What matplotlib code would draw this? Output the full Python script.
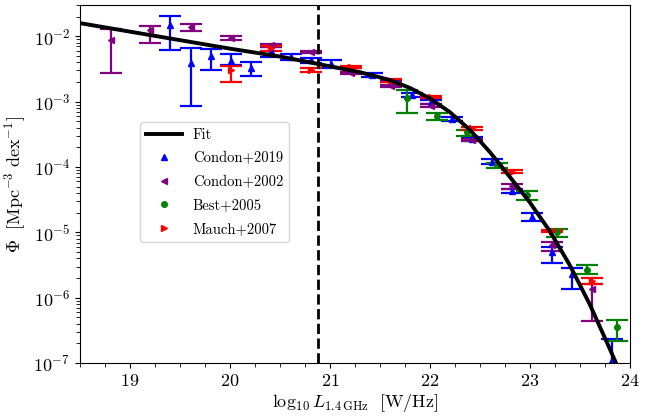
import numpy as np
import matplotlib
matplotlib.use('Agg')
import matplotlib.pyplot as plt
from matplotlib.lines import Line2D
from matplotlib.ticker import MultipleLocator

# log10 luminosity bins, log10 phi, and lower/upper errors in dex
condon19_x = [19.40, 19.61, 19.81, 20.01, 20.21, 20.41, 20.61, 20.81, 21.01, 21.21, 21.42,
              21.61, 21.82, 22.01, 22.22, 22.42, 22.62, 22.82, 23.02, 23.22, 23.42, 23.82]
condon19_y = [-1.83, -2.41, -2.30, -2.38, -2.49, -2.23, -2.32, -2.37, -2.43, -2.52, -2.60,
              -2.72, -2.90, -3.01, -3.27, -3.57, -3.92, -4.36, -4.77, -5.30, -5.64, -6.95]
condon19_lo = [0.38, 0.66, 0.22, 0.06, 0.12, 0.09, 0.05, 0.04, 0.05, 0.03, 0.03,
               0.03, 0.03, 0.03, 0.03, 0.03, 0.03, 0.04, 0.05, 0.17, 0.22, 0.50]
condon19_hi = [0.14, 0.23, 0.10, 0.11, 0.09, 0.06, 0.05, 0.03, 0.06, 0.03, 0.04,
               0.03, 0.03, 0.03, 0.03, 0.03, 0.035, 0.03, 0.06, 0.07, 0.10, 0.32]

condon02_x = [18.81, 19.20, 19.61, 20.01, 20.41, 20.81, 21.21, 21.61, 22.01, 22.42, 22.82, 23.22, 23.62]
condon02_y = [-2.06, -1.91, -1.86, -2.02, -2.14, -2.24, -2.56, -2.76, -3.06, -3.59, -4.29, -5.20, -5.86]
condon02_lo = [0.50, 0.19, 0.06, 0.04, 0.02, 0.02, 0.02, 0.02, 0.02, 0.02, 0.04, 0.09, 0.50]
condon02_hi = [0.17, 0.06, 0.05, 0.03, 0.02, 0.02, 0.02, 0.02, 0.02, 0.02, 0.03, 0.05, 0.07]

best05_x = [21.77, 22.07, 22.37, 22.67, 22.97, 23.27, 23.57, 23.87]
best05_y = [-2.94, -3.22, -3.47, -3.97, -4.43, -5.00, -5.57, -6.45]
best05_lo = [0.23, 0.06, 0.06, 0.05, 0.07, 0.07, 0.07, 0.21]
best05_hi = [0.12, 0.05, 0.04, 0.03, 0.06, 0.05, 0.07, 0.11]

mauch07_x = [20.01, 20.41, 20.81, 21.21, 21.61, 22.01, 22.42, 22.82, 23.22, 23.62]
mauch07_y = [-2.51, -2.18, -2.51, -2.47, -2.68, -2.93, -3.41, -4.07, -4.98, -5.75]
mauch07_lo = [0.19, 0.04, 0.03, 0.02, 0.02, 0.02, 0.02, 0.02, 0.02, 0.04]
mauch07_hi = [0.06, 0.03, 0.03, 0.02, 0.02, 0.02, 0.02, 0.02, 0.02, 0.05]

# fitted luminosity function
fit_x = [18.5, 19.0, 19.5, 20.0, 20.5, 21.0, 21.3, 21.6, 21.8, 22.0,
         22.2, 22.4, 22.6, 22.8, 23.0, 23.2, 23.4, 23.6, 23.8, 23.9]
fit_y = [-1.80, -1.93, -2.06, -2.19, -2.31, -2.46, -2.55, -2.67, -2.79, -2.95,
         -3.16, -3.43, -3.77, -4.15, -4.54, -4.98, -5.50, -6.10, -6.78, -7.13]

l_cut = 20.88

plt.rcParams['font.family'] = 'cmr10'
plt.rcParams['mathtext.fontset'] = 'cm'
plt.rcParams['axes.formatter.use_mathtext'] = True
plt.rcParams['font.size'] = 13


def plot_set(ax, x, logy, lo, hi, color, marker):
    y = 10 ** np.array(logy)
    ylo = y - 10 ** (np.array(logy) - np.array(lo))
    yhi = 10 ** (np.array(logy) + np.array(hi)) - y
    ax.errorbar(x, y, yerr=[ylo, yhi], fmt=marker, color=color, ms=4,
                elinewidth=1.6, capsize=8, capthick=1.6)
    return Line2D([], [], ls='none', marker=marker, color=color, ms=4)


fig = plt.figure(figsize=(6.65, 4.16), dpi=100)
ax = fig.add_axes([0.120, 0.127, 0.827, 0.861])

fit_line, = ax.plot(fit_x, 10 ** np.array(fit_y), color='black', lw=2.8, zorder=10)
h19 = plot_set(ax, condon19_x, condon19_y, condon19_lo, condon19_hi, 'blue', '^')
h02 = plot_set(ax, condon02_x, condon02_y, condon02_lo, condon02_hi, 'purple', '<')
h05 = plot_set(ax, best05_x, best05_y, best05_lo, best05_hi, 'green', 'o')
h07 = plot_set(ax, mauch07_x, mauch07_y, mauch07_lo, mauch07_hi, 'red', '>')
ax.axvline(l_cut, color='black', ls='--', lw=2, zorder=11)

ax.set_yscale('log')
ax.set_xlim(18.5, 24)
ax.set_ylim(1e-7, 3e-2)
ax.xaxis.set_major_locator(MultipleLocator(1))
ax.xaxis.set_minor_locator(MultipleLocator(0.25))
ax.tick_params(which='minor', length=3)
ax.set_xlabel(r'$\log_{10} L_{1.4\,\mathrm{GHz}}\ \ [\mathrm{W/Hz}]$', labelpad=2)
ax.set_ylabel(r'$\Phi\ \ [\mathrm{Mpc^{-3}\ dex^{-1}}]$')

ax.legend([fit_line, h19, h02, h05, h07],
          ['Fit', 'Condon+2019', 'Condon+2002', 'Best+2005', 'Mauch+2007'],
          loc='upper left', bbox_to_anchor=(0.109, 0.673), borderaxespad=0,
          fontsize=10.5, handlelength=2.5, handletextpad=0.75, labelspacing=0.68)

fig.savefig('out.png', dpi=100)
